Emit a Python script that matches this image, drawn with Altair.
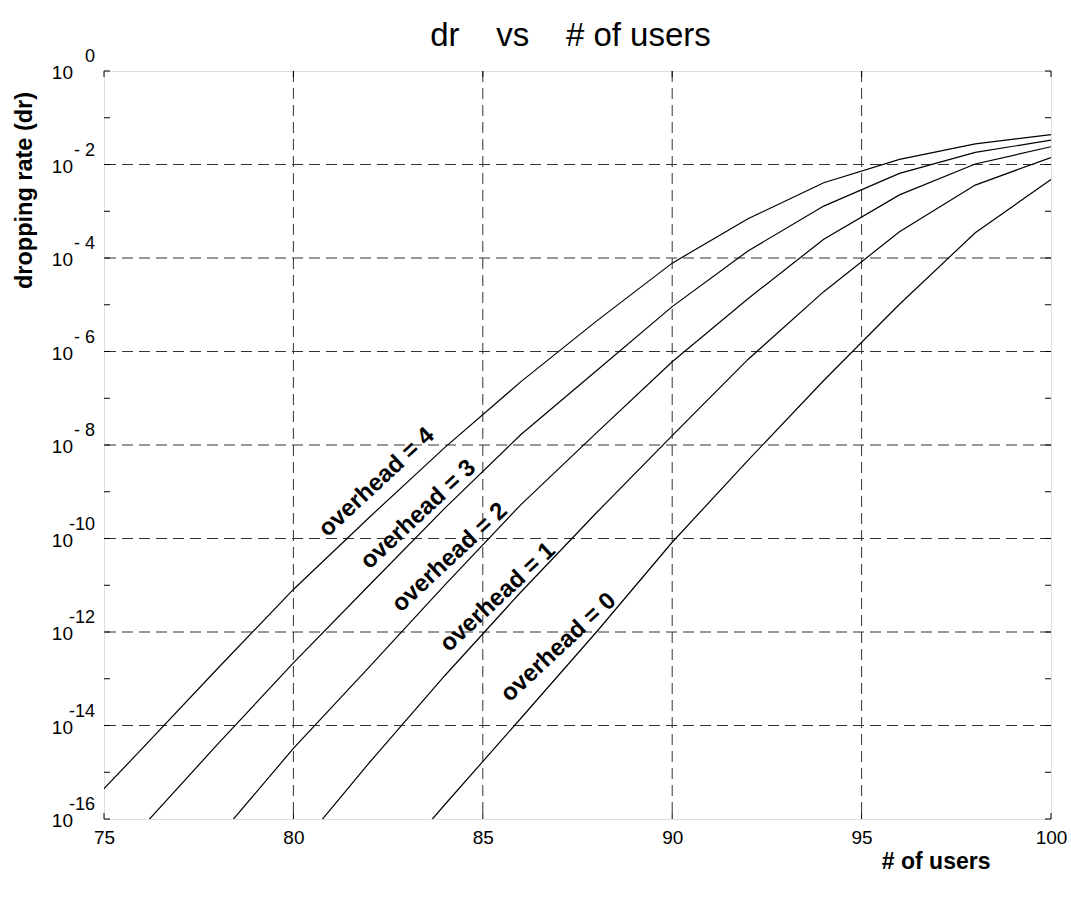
import altair as alt
import pandas as pd

# ---------------- data ----------------
users = [74, 76, 78, 80, 82, 84, 86, 88, 90, 92, 94, 96, 98, 100]
# log10(dropping rate); None where the curve lies far outside the plot
exp_oh4 = [-16.2, -14.5, -12.78, -11.09, -9.55, -8.05, -6.65, -5.35, -4.11, -3.16, -2.39, -1.89, -1.56, -1.36]
exp_oh3 = [None, -16.18, -14.4, -12.66, -11.0, -9.35, -7.78, -6.41, -5.04, -3.85, -2.89, -2.19, -1.74, -1.48]
exp_oh2 = [None, None, -16.4, -14.49, -12.75, -10.99, -9.28, -7.74, -6.22, -4.87, -3.6, -2.65, -1.99, -1.62]
exp_oh1 = [None, None, None, -16.75, -14.8, -12.93, -11.15, -9.45, -7.8, -6.17, -4.72, -3.44, -2.44, -1.85]
exp_oh0 = [None, None, None, None, -17.56, -15.69, -13.85, -12.0, -10.08, -8.33, -6.62, -4.99, -3.46, -2.32]

series_names = ["overhead = 4", "overhead = 3", "overhead = 2", "overhead = 1", "overhead = 0"]
series_exps = [exp_oh4, exp_oh3, exp_oh2, exp_oh1, exp_oh0]

# in-plot curve labels (position in data units)
label_users = [82.2, 83.3, 84.13, 85.4, 87.0]
label_exps = [-8.8, -9.49, -10.41, -11.26, -12.33]

x_ticks = [75, 80, 85, 90, 95, 100]
x_grid = [80, 85, 90, 95]
y_label_exps = [0, -2, -4, -6, -8, -10, -12, -14, -16]
y_label_sup = ["0", "- 2", "- 4", "- 6", "- 8", "-10", "-12", "-14", "-16"]
y_grid_exps = [-2, -4, -6, -8, -10, -12, -14]
y_minor_exps = list(range(0, -17, -1))

NB = "\u00a0"
title_text = "dr" + NB * 4 + "vs" + NB * 4 + "# of users"

# ---------------- tables ----------------
rows = []
for name, exps in zip(series_names, series_exps):
    for u, e in zip(users, exps):
        if e is not None:
            rows.append({"users": u, "dr": 10.0 ** e, "series": name})
df_lines = pd.DataFrame(rows)
df_labels = pd.DataFrame({"users": label_users, "dr": [10.0 ** e for e in label_exps], "text": series_names})
df_ylab = pd.DataFrame({"dr": [10.0 ** e for e in y_label_exps], "base": ["10"] * len(y_label_exps), "sup": y_label_sup})
df_hgrid = pd.DataFrame({"dr": [10.0 ** e for e in y_grid_exps]})
df_vgrid = pd.DataFrame({"users": x_grid})
df_yminor = pd.DataFrame({"dr": [10.0 ** e for e in y_minor_exps]})
df_xminor = pd.DataFrame({"users": x_ticks})
df_title = pd.DataFrame({"text": [title_text]})

W, H = 947, 748
FONT = "Liberation Sans"

xscale = alt.Scale(domain=[75, 100], nice=False, zero=False)
yscale = alt.Scale(type="log", domain=[1e-16, 1], nice=False)

x_axis = alt.Axis(
    values=x_ticks, ticks=False, grid=False, domain=False, labelFontSize=19, labelFont=FONT,
    labelColor="black", labelPadding=9, labelFlush=False,
    title="# of users", titleFont=FONT, titleFontSize=23, titleFontWeight="bold", titleColor="black",
    titleX=886, titleY=49, titleAlign="right", titleBaseline="alphabetic")
y_axis = alt.Axis(
    labels=False, ticks=False, grid=False, domain=False,
    title="dropping rate (dr)", titleFont=FONT, titleFontSize=23.5, titleFontWeight="bold",
    titleColor="black", titleX=-73, titleY=119, titleAngle=270, titleAlign="center",
    titleBaseline="alphabetic")

X = alt.X("users:Q", scale=xscale, axis=x_axis)
Y = alt.Y("dr:Q", scale=yscale, axis=y_axis)

lines = alt.Chart(df_lines).mark_line(color="black", strokeWidth=1.2, clip=True).encode(
    x=X, y=Y, detail="series:N")

hgrid = alt.Chart(df_hgrid).mark_rule(color="#333", strokeWidth=1, strokeDash=[11, 6]).encode(y=Y)
vgrid = alt.Chart(df_vgrid).mark_rule(color="#333", strokeWidth=1, strokeDash=[11, 6]).encode(x=X)

yminor_l = alt.Chart(df_yminor).mark_rule(color="black").encode(
    y=Y, x=alt.value(0), x2=alt.value(6))
yminor_r = alt.Chart(df_yminor).mark_rule(color="black").encode(
    y=Y, x=alt.value(W - 6), x2=alt.value(W))
xminor_b = alt.Chart(df_xminor).mark_rule(color="black").encode(
    x=X, y=alt.value(H - 6), y2=alt.value(H))
xminor_t = alt.Chart(df_xminor).mark_rule(color="black").encode(
    x=X, y=alt.value(0), y2=alt.value(6))

ylab_base = alt.Chart(df_ylab).mark_text(align="right", baseline="middle", fontSize=19, font=FONT,
                                          color="black", dy=2).encode(
    y=Y, x=alt.value(-31), text="base:N")
ylab_sup = alt.Chart(df_ylab).mark_text(align="right", baseline="middle", fontSize=18, font=FONT,
                                         color="black", dy=-14).encode(
    y=Y, x=alt.value(-9), text="sup:N")

curve_labels = alt.Chart(df_labels).mark_text(angle=317, align="center", baseline="middle",
                                               fontSize=24, fontWeight="bold", font=FONT,
                                               color="black").encode(
    x=X, y=Y, text="text:N")

title = alt.Chart(df_title).mark_text(align="center", baseline="alphabetic", fontSize=33,
                                      font=FONT, color="black").encode(
    x=alt.value(W / 2 - 7), y=alt.value(-25), text="text:N")

chart = alt.layer(
    hgrid, vgrid, lines, yminor_l, yminor_r, xminor_b, xminor_t,
    ylab_base, ylab_sup, curve_labels, title
).properties(
    width=W, height=H,
    padding={"left": 104, "top": 71, "right": 20, "bottom": 82},
    autosize=alt.AutoSizeParams(type="none"),
).configure_view(stroke="black", strokeWidth=1.2).configure(background="white")

chart.save("out.html", embed_options={"renderer": "svg", "actions": False})
